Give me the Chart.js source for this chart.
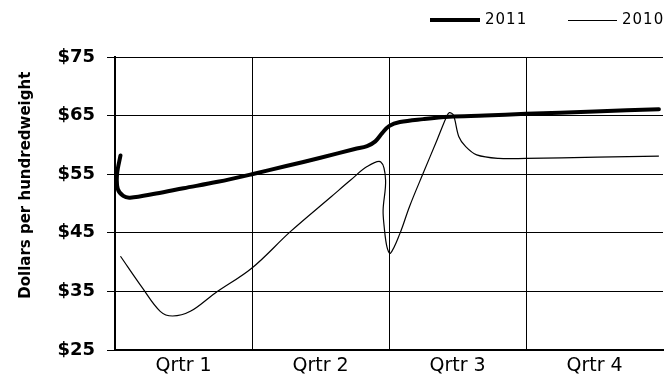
<!DOCTYPE html>
<html>
<head>
<meta charset="utf-8">
<script src="https://cdn.jsdelivr.net/npm/chart.js@4.4.1/dist/chart.umd.min.js"></script>
<style>
  html, body { margin: 0; padding: 0; background: #fff; }
  #wrap { position: relative; width: 668px; height: 381px; }
  canvas { display: block; }
  .lg-line { position: absolute; background: #000; }
  .lg-text { position: absolute; font-family: "DejaVu Sans", sans-serif; font-size: 15px; letter-spacing: 1px; color: #000; line-height: 15px; }
</style>
</head>
<body>
<div id="wrap">
  <canvas id="c" width="668" height="381"></canvas>
</div>
<script>
// ---- data ----
const quarterLabels = ['Qrtr 1', 'Qrtr 2', 'Qrtr 3', 'Qrtr 4'];
const seriesNames = ['2011', '2010'];
const yAxisTitle = 'Dollars per hundredweight';

// position within the year, in quarters (0 = start of Qrtr 1, 4 = end of Qrtr 4)
const x2011 = [0.04, 0.015, 0.02, 0.06, 0.11, 0.3, 0.5, 0.75, 1.0, 1.25, 1.5, 1.75, 1.84, 1.9, 1.95, 2.0, 2.08, 2.25, 2.44, 2.7, 3.0, 3.5, 3.97];
const y2011 = [58.2, 55.0, 52.5, 51.3, 51.0, 51.7, 52.6, 53.7, 55.0, 56.4, 57.8, 59.3, 59.8, 60.6, 62.0, 63.2, 63.9, 64.4, 64.8, 65.0, 65.3, 65.7, 66.1];

const x2010 = [0.04, 0.2, 0.33, 0.42, 0.55, 0.73, 1.0, 1.28, 1.58, 1.72, 1.84, 1.94, 1.975, 1.957, 1.965, 1.985, 2.01, 2.08, 2.15, 2.25, 2.35, 2.42, 2.44, 2.47, 2.51, 2.56, 2.64, 2.8, 3.0, 3.52, 3.97];
const y2010 = [41.0, 35.6, 31.6, 30.8, 31.6, 34.7, 39.0, 45.2, 51.2, 54.0, 56.3, 57.1, 54.0, 48.9, 46.0, 42.6, 41.5, 44.9, 49.5, 55.2, 60.8, 64.8, 65.5, 65.1, 61.4, 59.7, 58.3, 57.7, 57.7, 57.9, 58.1];

const yMin = 25, yMax = 75, yStep = 10;

function toPoints(xs, ys) { return xs.map((x, i) => ({ x: x, y: ys[i] })); }

// ---- legend (HTML) ----
const wrap = document.getElementById('wrap');
const legendSpec = [
  { name: seriesNames[0], lineLeft: 430, lineWidth: 50, thick: 4, textLeft: 485 },
  { name: seriesNames[1], lineLeft: 568, lineWidth: 49, thick: 1, textLeft: 622 }
];
legendSpec.forEach(s => {
  const l = document.createElement('div');
  l.className = 'lg-line';
  l.style.left = s.lineLeft + 'px';
  l.style.width = s.lineWidth + 'px';
  l.style.height = s.thick + 'px';
  l.style.top = (20 - s.thick / 2) + 'px';
  wrap.appendChild(l);
  const t = document.createElement('div');
  t.className = 'lg-text';
  t.textContent = s.name;
  t.style.left = s.textLeft + 'px';
  t.style.top = '12px';
  wrap.appendChild(t);
});

// ---- chart ----
const ctx = document.getElementById('c').getContext('2d');
new Chart(ctx, {
  type: 'line',
  data: {
    datasets: [
      {
        label: seriesNames[0],
        data: toPoints(x2011, y2011),
        borderColor: '#000',
        borderWidth: 4,
        pointRadius: 0,
        tension: 0.35,
        fill: false,
        borderCapStyle: 'round',
        borderJoinStyle: 'round'
      },
      {
        label: seriesNames[1],
        data: toPoints(x2010, y2010),
        borderColor: '#000',
        borderWidth: 1.2,
        pointRadius: 0,
        tension: 0.35,
        fill: false
      }
    ]
  },
  options: {
    responsive: false,
    animation: false,
    events: [],
    layout: { padding: { top: 57, right: 0, left: 0, bottom: 0 } },
    plugins: {
      legend: { display: false },
      tooltip: { enabled: false },
      title: { display: false }
    },
    scales: {
      x: {
        type: 'linear',
        min: 0,
        max: 4,
        afterFit: (s) => { s.height = 31; },
        border: { display: true, color: '#000', width: 2 },
        grid: {
          drawTicks: false,
          lineWidth: 1,
          color: (c) => {
            const v = c.tick ? c.tick.value : null;
            return (v !== null && Number.isInteger(v) && v > 0 && v < 4) ? '#000' : 'rgba(0,0,0,0)';
          }
        },
        ticks: {
          stepSize: 0.5,
          autoSkip: false,
          maxRotation: 0,
          padding: 5,
          color: '#000',
          font: { family: '"DejaVu Sans", sans-serif', size: 19 },
          callback: (v) => {
            const f = v - Math.floor(v);
            return Math.abs(f - 0.5) < 1e-6 ? quarterLabels[Math.floor(v)] : '';
          }
        }
      },
      y: {
        min: yMin,
        max: yMax,
        afterFit: (s) => { s.width = 115; },
        border: { display: true, color: '#000', width: 2 },
        grid: {
          color: '#000',
          lineWidth: 1,
          drawTicks: true,
          tickLength: 8
        },
        ticks: {
          stepSize: yStep,
          padding: 12,
          color: '#000',
          font: { family: '"DejaVu Sans", sans-serif', size: 18, weight: 'bold' },
          callback: (v) => '$' + v
        },
        title: {
          display: true,
          text: '       ' + yAxisTitle,
          color: '#000',
          padding: { top: 17, bottom: 0 },
          font: { family: '"DejaVu Sans", sans-serif', size: 15, weight: 'bold' }
        }
      }
    }
  }
});
</script>
</body>
</html>
